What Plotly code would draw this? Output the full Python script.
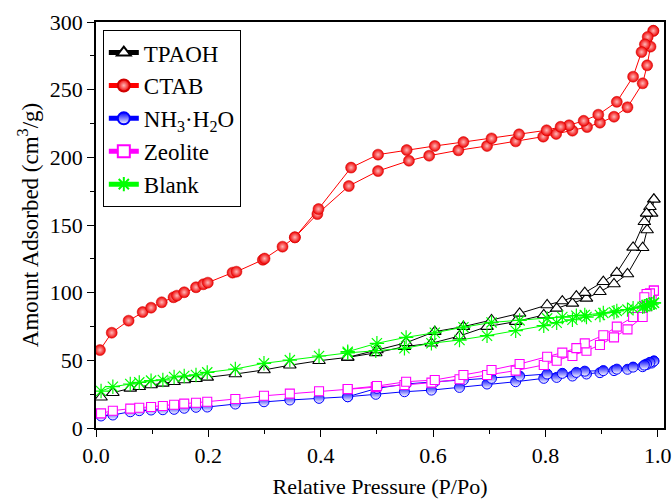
import plotly.graph_objects as go

# Relative pressure grid shared by the TPAOH, NH3·H2O, Zeolite and Blank samples
P_ADS = [0.009, 0.03, 0.061, 0.077, 0.098, 0.119, 0.139, 0.157, 0.178, 0.198,
         0.248, 0.299, 0.345, 0.397, 0.448, 0.498, 0.549, 0.597, 0.647, 0.696,
         0.747, 0.797, 0.820, 0.848, 0.873, 0.897, 0.922, 0.946, 0.973, 0.981,
         0.989, 0.993]
P_DES = [0.993, 0.986, 0.980, 0.976, 0.956, 0.927, 0.903, 0.870, 0.855, 0.830,
         0.803, 0.754, 0.704, 0.654, 0.603, 0.552, 0.500, 0.448]

# Adsorbed amounts (cm3/g)
TPAOH_ADS = [22.7, 26.1, 29.3, 30.5, 31.8, 33.0, 34.2, 35.5, 36.4, 37.4,
             39.9, 42.9, 46.4, 49.7, 52.2, 55.5, 60.1, 62.6, 68.0, 74.9,
             78.6, 83.5, 88.4, 92.1, 95.8, 100.7, 106.4, 113.8, 133.2, 146.3,
             158.6, 169.0]
TPAOH_DES = [169.0, 163.5, 158.6, 152.4, 133.5, 114.8, 108.1, 100.0, 97.5, 93.8,
             90.9, 84.7, 79.8, 74.9, 71.2, 63.0, 57.6, 52.2]

BLANK_ADS = [27.3, 30.5, 32.5, 33.7, 35.0, 35.5, 37.7, 38.4, 39.2, 41.1,
             43.6, 47.8, 50.2, 53.2, 55.5, 57.1, 58.9, 62.6, 65.0, 68.2,
             71.9, 75.6, 77.8, 80.0, 82.0, 83.5, 85.5, 87.5, 89.5, 90.5,
             91.5, 92.5]
BLANK_DES = [92.5, 91.5, 90.8, 90.0, 88.5, 86.5, 85.0, 83.5, 83.0, 82.0,
             81.0, 79.5, 78.0, 74.5, 70.4, 67.0, 62.6, 56.4]

ZEOLITE_ADS = [10.8, 12.8, 14.3, 15.0, 15.5, 16.3, 17.2, 18.0, 18.7, 19.4,
               21.4, 23.8, 25.4, 27.1, 28.6, 30.2, 31.8, 33.5, 36.0, 39.2,
               42.4, 46.6, 49.7, 53.2, 57.1, 61.3, 67.0, 72.9, 82.0, 90.0,
               95.8, 101.5]
ZEOLITE_DES = [101.5, 99.5, 99.0, 96.6, 82.0, 74.9, 68.5, 62.5, 59.0, 55.7,
               52.7, 47.3, 42.9, 39.2, 35.5, 34.2, 31.0, 28.8]

NH3_ADS = [8.9, 9.6, 12.0, 12.8, 13.3, 13.5, 13.8, 14.6, 15.3, 15.5,
           17.7, 19.4, 20.7, 21.9, 23.1, 24.9, 26.8, 28.0, 30.0, 32.5,
           34.2, 36.7, 37.4, 38.4, 39.9, 40.9, 42.4, 43.4, 45.3, 47.0,
           48.0, 49.5]
NH3_DES = [49.5, 48.5, 47.3, 46.5, 45.0, 43.5, 42.4, 42.0, 41.1, 40.4,
           39.9, 38.4, 36.7, 35.5, 34.2, 32.5, 29.3, 23.1]

# CTAB was measured on its own pressure points
CTAB_P_ADS = [0.007, 0.028, 0.058, 0.083, 0.098, 0.117, 0.138, 0.144, 0.157, 0.178,
              0.191, 0.199, 0.243, 0.250, 0.297, 0.300, 0.332, 0.354, 0.394, 0.450,
              0.502, 0.557, 0.593, 0.645, 0.696, 0.747, 0.796, 0.819, 0.848, 0.874,
              0.897, 0.922, 0.946, 0.973, 0.981, 0.987, 0.992]
CTAB_ADS = [57.6, 70.4, 79.3, 85.7, 88.9, 92.9, 96.6, 97.8, 100.3, 104.0,
            106.2, 107.4, 114.8, 115.5, 124.3, 125.2, 134.0, 140.9, 158.1, 178.8,
            189.9, 197.5, 201.2, 205.2, 208.4, 211.8, 215.3, 217.3, 219.7, 222.4,
            225.6, 230.0, 237.0, 254.7, 268.0, 281.8, 293.5]
CTAB_P_DES = [0.992, 0.982, 0.977, 0.971, 0.956, 0.927, 0.894, 0.868, 0.842, 0.827,
              0.802, 0.753, 0.704, 0.654, 0.603, 0.553, 0.502, 0.454, 0.396, 0.354]
CTAB_DES = [293.5, 289.0, 283.5, 277.8, 259.6, 241.0, 231.5, 227.0, 223.7, 222.6,
            220.0, 217.0, 214.0, 211.3, 208.4, 205.4, 202.0, 192.4, 161.8, 140.9]

FONT = "Liberation Serif, Times New Roman, serif"

fig = go.Figure()

# TPAOH: open black triangles
fig.add_trace(go.Scatter(
    x=P_ADS + P_DES, y=TPAOH_ADS + TPAOH_DES, name="TPAOH", mode="lines+markers",
    line=dict(color="black", width=1),
    marker=dict(symbol="triangle-up", size=11, color="white",
                line=dict(color="black", width=1.1)),
))

# CTAB: shaded red balls
fig.add_trace(go.Scatter(
    x=CTAB_P_ADS + CTAB_P_DES, y=CTAB_ADS + CTAB_DES, name="CTAB", mode="lines+markers",
    line=dict(color="#ff0000", width=1),
    marker=dict(symbol="circle", size=11, color="#f00000",
                gradient=dict(type="radial", color="#ffb8b8"),
                line=dict(color="#d00000", width=0.5)),
))

# NH3·H2O: half-filled blue circles
fig.add_trace(go.Scatter(
    x=P_ADS + P_DES, y=NH3_ADS + NH3_DES, name="NH<sub>3</sub>·H<sub>2</sub>O",
    mode="lines+markers",
    line=dict(color="#0000ff", width=1),
    marker=dict(symbol="circle", size=10, color="#0000ff",
                gradient=dict(type="vertical", color="white"),
                line=dict(color="#0000ff", width=1)),
))

# Zeolite: open magenta squares
fig.add_trace(go.Scatter(
    x=P_ADS + P_DES, y=ZEOLITE_ADS + ZEOLITE_DES, name="Zeolite", mode="lines+markers",
    line=dict(color="#ff00ff", width=1),
    marker=dict(symbol="square", size=9, color="white",
                line=dict(color="#ff00ff", width=1.1)),
))

# Blank: green asterisks
fig.add_trace(go.Scatter(
    x=P_ADS + P_DES, y=BLANK_ADS + BLANK_DES, name="Blank", mode="lines+markers",
    line=dict(color="#00ff00", width=1),
    marker=dict(symbol="asterisk-open", size=12, color="#00ff00",
                line=dict(color="#00ff00", width=1.2)),
))

axis_common = dict(
    showline=True, linecolor="black", linewidth=1.5, mirror=True,
    ticks="outside", ticklen=7, tickwidth=1.2, tickcolor="black",
    showgrid=False, zeroline=False, automargin=False,
    tickfont=dict(family=FONT, size=22, color="black"),
)

fig.update_xaxes(
    range=[0, 1.011], dtick=0.2, tick0=0, tickformat=".1f",
    minor=dict(dtick=0.1, ticks="outside", ticklen=4, tickwidth=1.2, tickcolor="black"),
    title=dict(text="Relative Pressure (P/Po)", font=dict(family=FONT, size=22, color="black"),
               standoff=14),
    **axis_common,
)
fig.update_yaxes(
    range=[0, 300], dtick=50, tick0=0,
    minor=dict(dtick=25, ticks="outside", ticklen=4, tickwidth=1.2, tickcolor="black"),
    title=dict(text="Amount Adsorbed (cm<sup>3</sup>/g)",
               font=dict(family=FONT, size=23, color="black"), standoff=5),
    **axis_common,
)

fig.update_layout(
    width=672, height=499, autosize=False,
    margin=dict(l=96, r=8, t=22, b=71),
    plot_bgcolor="white", paper_bgcolor="white",
    font=dict(family=FONT, color="black"),
    legend=dict(
        x=0.012, y=0.98, xanchor="left", yanchor="top",
        bgcolor="white", bordercolor="black", borderwidth=1,
        font=dict(family=FONT, size=23, color="black"),
        itemsizing="constant", tracegroupgap=0,
    ),
)

fig.write_html("out.html")
